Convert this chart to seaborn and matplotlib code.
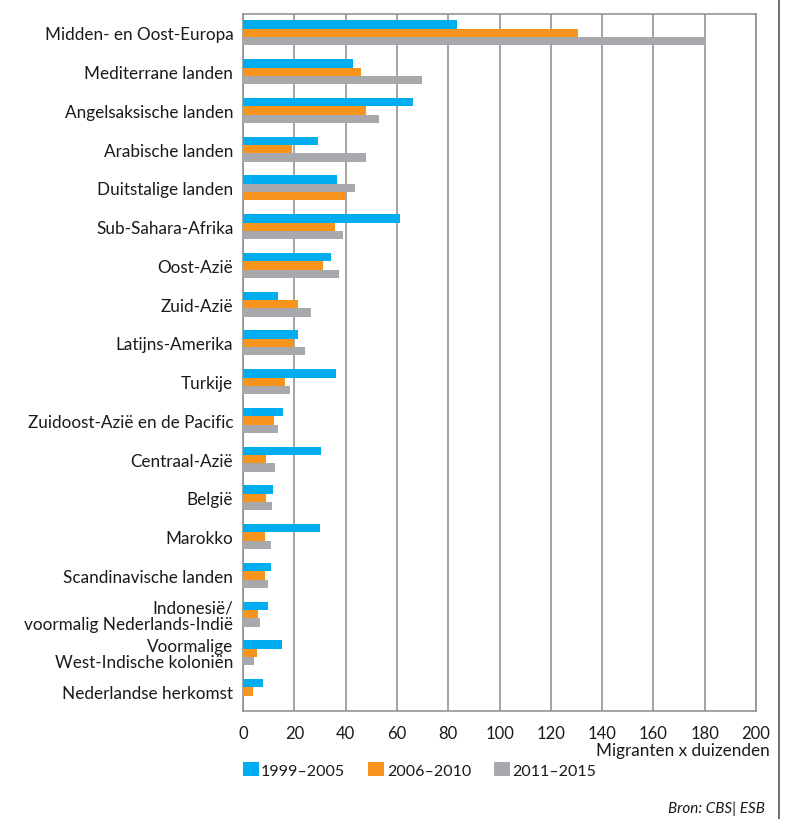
import matplotlib
matplotlib.use("Agg")
import matplotlib.pyplot as plt
from matplotlib.patches import Patch
from matplotlib.lines import Line2D
import seaborn as sns
import pandas as pd
import numpy as np

# Data (migrants x 1000)
regios = [
    "Midden- en Oost-Europa", "Mediterrane landen", "Angelsaksische landen",
    "Arabische landen", "Duitstalige landen", "Sub-Sahara-Afrika", "Oost-Azië",
    "Zuid-Azië", "Latijns-Amerika", "Turkije", "Zuidoost-Azië en de Pacific",
    "Centraal-Azië", "België", "Marokko", "Scandinavische landen",
    "Indonesië/\nvoormalig Nederlands-Indië", "Voormalige\nWest-Indische koloniën",
    "Nederlandse herkomst",
]
periodes = ["1999–2005", "2006–2010", "2011–2015"]
p1999 = [83.5, 42.7, 66.4, 29.4, 36.5, 61.3, 34.2, 13.6, 21.3, 36.1, 15.6, 30.3, 11.8, 29.9, 10.8, 9.8, 15.0, 7.8]
p2006 = [130.6, 45.9, 47.9, 18.9, 40.3, 36.0, 31.2, 21.3, 20.0, 16.5, 12.2, 8.9, 8.9, 8.4, 8.4, 6.0, 5.6, 3.7]
p2011 = [180.2, 69.8, 53.2, 47.9, 43.5, 38.8, 37.5, 26.5, 24.2, 18.4, 13.7, 12.3, 11.2, 10.8, 9.9, 6.5, 4.2, 0.0]
kleuren = ["#00AEEF", "#F7941D", "#A7A9AC"]

df = pd.DataFrame({
    "regio": regios * 3,
    "periode": np.repeat(periodes, len(regios)),
    "waarde": p1999 + p2006 + p2011,
})

sns.set_style("white")
plt.rcParams["font.family"] = ["Lato", "DejaVu Sans"]

fig = plt.figure(figsize=(7.85, 8.2), dpi=100)
ax = fig.add_axes([0.3096, 0.1317, 0.6535, 0.8506])

sns.barplot(data=df, y="regio", x="waarde", hue="periode", orient="h",
            palette=kleuren, width=0.64, gap=0, saturation=1, errorbar=None,
            linewidth=0, legend=False, ax=ax, zorder=3)

# in the source chart the orange and gray bars of 'Duitstalige landen' are swapped
i = regios.index("Duitstalige landen")
po = ax.containers[1][i]
pg = ax.containers[2][i]
yo, yg = po.get_y(), pg.get_y()
po.set_y(yg)
pg.set_y(yo)

ax.set_xlim(0, 200)
ax.set_ylim(len(regios) - 0.5, -0.5)
ax.set_xticks(range(0, 201, 20))
ax.set_xlabel("")
ax.set_ylabel("")
ax.grid(axis="x", color="#8c8c8c", linewidth=1.1, zorder=0)
ax.set_axisbelow(True)
for s in ax.spines.values():
    s.set_color("#8c8c8c")
    s.set_linewidth(1.1)

ax.tick_params(axis="x", direction="out", length=6, width=1.1, color="#8c8c8c",
               labelsize=12, pad=4, labelcolor="#1a1a1a")
ax.tick_params(axis="y", which="major", length=0, labelsize=12.3, pad=7, labelcolor="#1a1a1a")
ax.set_yticks(np.arange(0.5, len(regios) - 1, 1), minor=True)
ax.tick_params(axis="y", which="minor", direction="out", length=5, width=1.1, color="#8c8c8c")
for lbl in ax.get_yticklabels():
    lbl.set_linespacing(1.0)

fig.text(0.981, 0.0845, "Migranten x duizenden", ha="right", va="center",
         fontsize=12.3, color="#1a1a1a")

handles = [Patch(facecolor=c, edgecolor="none") for c in kleuren]
fig.legend(handles, periodes, loc="center left", bbox_to_anchor=(0.291, 0.060),
           ncol=3, frameon=False, fontsize=11.5, handlelength=1.0, handleheight=1.0,
           handletextpad=0.15, columnspacing=1.45, labelcolor="#1a1a1a")

fig.text(0.974, 0.014, "Bron: CBS| ESB", ha="right", va="center", fontsize=11,
         style="italic", color="#1a1a1a")

fig.add_artist(Line2D([0.9924, 0.9924], [0, 1], transform=fig.transFigure,
                      color="#555555", linewidth=1.2))

fig.savefig("out.png", dpi=100)
